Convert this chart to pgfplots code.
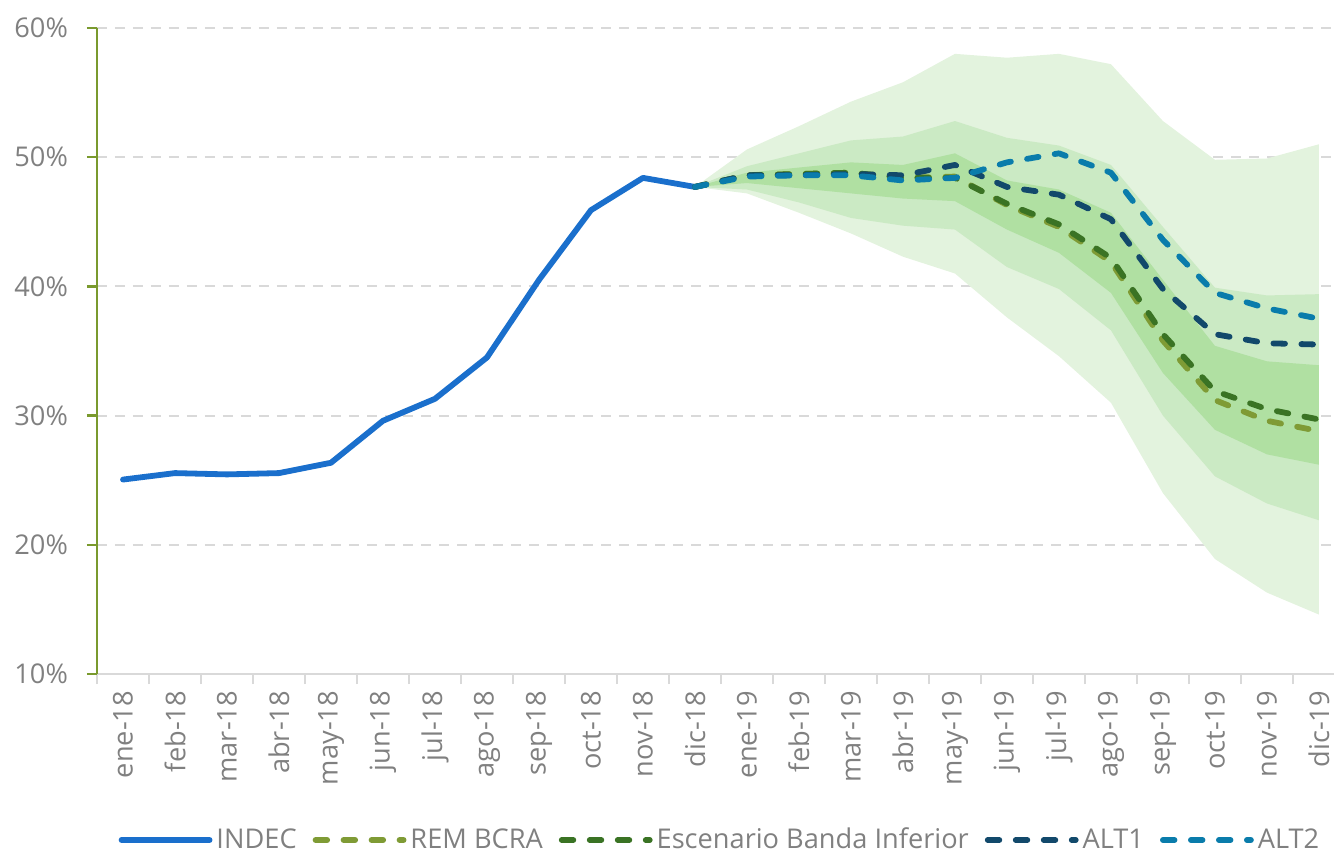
\documentclass[border=0pt]{standalone}
\usepackage{pgfplots}
\pgfplotsset{compat=1.18}
\usepackage{fontspec}
\setmainfont{Open Sans}
\definecolor{indec}{RGB}{26,111,204}
\definecolor{rem}{RGB}{127,155,53}
\definecolor{esc}{RGB}{58,115,36}
\definecolor{altone}{RGB}{18,73,107}
\definecolor{alttwo}{RGB}{10,124,171}
\definecolor{bandA}{RGB}{227,243,222}
\definecolor{bandB}{RGB}{203,234,196}
\definecolor{bandC}{RGB}{176,224,162}
\definecolor{gridgrey}{RGB}{217,217,217}
\definecolor{labelgrey}{RGB}{128,128,128}
\definecolor{axgreen}{RGB}{122,154,46}
\begin{document}
\begin{tikzpicture}[font=\fontsize{13.6}{16}\selectfont]
\begin{axis}[name=ax, scale only axis, width=618.5pt, height=323pt,
  xmin=-0.5, xmax=23.29, ymin=10, ymax=60,
  axis x line*=bottom, axis y line*=left,
  x axis line style={draw=gridgrey, line width=1pt, -},
  y axis line style={draw=axgreen, line width=1.2pt, -},
  tick align=outside, major tick length=5pt, minor tick length=5pt,
  xtick={0,...,23},
  xticklabels={ene-18,feb-18,mar-18,abr-18,may-18,jun-18,jul-18,ago-18,sep-18,oct-18,nov-18,dic-18,ene-19,feb-19,mar-19,abr-19,may-19,jun-19,jul-19,ago-19,sep-19,oct-19,nov-19,dic-19},
  major x tick style={draw=none},
  minor xtick={-0.5,0.5,...,22.5},
  minor x tick style={draw=gridgrey, line width=1pt},
  ytick={10,20,30,40,50,60},
  yticklabels={10\%,20\%,30\%,40\%,50\%,60\%},
  major y tick style={draw=axgreen, line width=1.2pt},
  ymajorgrids, y grid style={draw=gridgrey, line width=1pt, dash pattern=on 5pt off 4pt},
  tick label style={font=\fontsize{13.6}{16}\selectfont, text=labelgrey},
  yticklabel style={xshift=-6pt},
  xticklabel style={rotate=90, anchor=east},
  legend columns=5,
  legend style={draw=none, fill=none, at={(0.5044,0)}, anchor=center, yshift=-83pt,
    font=\fontsize{13.6}{16}\selectfont, text=labelgrey,
    /tikz/every even column/.append style={column sep=6pt}},
  legend image code/.code={\draw[#1] (0pt,0pt) -- (44pt,0pt);},
]
% bands
\addplot[fill=bandA, draw=none, forget plot] coordinates {
 (11,47.7) (12,50.6) (13,52.4) (14,54.3) (15,55.8) (16,58.0) (17,57.7) (18,58.0) (19,57.2) (20,52.8) (21,49.8) (22,49.9) (23,51.0)
 (23,14.6) (22,16.3) (21,18.9) (20,24.0) (19,31.0) (18,34.6) (17,37.6) (16,41.0) (15,42.3) (14,44.1) (13,45.7) (12,47.2) (11,47.7)};
\addplot[fill=bandB, draw=none, forget plot] coordinates {
 (11,47.7) (12,49.3) (13,50.3) (14,51.3) (15,51.6) (16,52.8) (17,51.5) (18,50.9) (19,49.4) (20,44.6) (21,39.9) (22,39.3) (23,39.4)
 (23,21.9) (22,23.2) (21,25.3) (20,30.0) (19,36.6) (18,39.8) (17,41.5) (16,44.4) (15,44.7) (14,45.3) (13,46.5) (12,47.5) (11,47.7)};
\addplot[fill=bandC, draw=none, forget plot] coordinates {
 (11,47.7) (12,48.8) (13,49.2) (14,49.6) (15,49.4) (16,50.3) (17,48.2) (18,47.5) (19,45.7) (20,40.5) (21,35.4) (22,34.2) (23,33.9)
 (23,26.2) (22,27.0) (21,28.9) (20,33.3) (19,39.5) (18,42.6) (17,44.4) (16,46.6) (15,46.8) (14,47.2) (13,47.6) (12,48.0) (11,47.7)};
% lines
\addplot[indec, line width=2.9pt, line join=round, line cap=round] coordinates {
 (0,25.05) (1,25.55) (2,25.45) (3,25.55) (4,26.35) (5,29.6) (6,31.3) (7,34.5) (8,40.5) (9,45.9) (10,48.4) (11,47.7)};
\addlegendentry{INDEC}
\addplot[rem, line width=2.9pt, line join=round, line cap=round, dash pattern=on 5.8pt off 8.2pt] coordinates {
 (11,47.7) (12,48.6) (13,48.7) (14,48.8) (15,48.4) (16,48.5) (17,46.3) (18,44.6) (19,41.9) (20,35.8) (21,31.2) (22,29.6) (23,28.8)};
\addlegendentry{REM BCRA}
\addplot[esc, line width=2.9pt, line join=round, line cap=round, dash pattern=on 5.8pt off 8.2pt] coordinates {
 (11,47.7) (12,48.6) (13,48.7) (14,48.8) (15,48.4) (16,48.4) (17,46.4) (18,44.8) (19,42.2) (20,36.3) (21,31.9) (22,30.5) (23,29.7)};
\addlegendentry{Escenario Banda Inferior}
\addplot[altone, line width=2.9pt, line join=round, line cap=round, dash pattern=on 5.8pt off 8.2pt] coordinates {
 (11,47.7) (12,48.6) (13,48.6) (14,48.7) (15,48.6) (16,49.4) (17,47.7) (18,47.1) (19,45.2) (20,39.8) (21,36.3) (22,35.6) (23,35.5)};
\addlegendentry{ALT1}
\addplot[alttwo, line width=2.9pt, line join=round, line cap=round, dash pattern=on 5.8pt off 8.2pt] coordinates {
 (11,47.7) (12,48.5) (13,48.6) (14,48.6) (15,48.2) (16,48.4) (17,49.6) (18,50.3) (19,48.8) (20,43.6) (21,39.5) (22,38.3) (23,37.5)};
\addlegendentry{ALT2}
\end{axis}
\pgfresetboundingbox
\path[use as bounding box] ([shift={(-48.5pt,-92pt)}]ax.south west) rectangle ([shift={(0pt,14pt)}]ax.north east);
\end{tikzpicture}
\end{document}
